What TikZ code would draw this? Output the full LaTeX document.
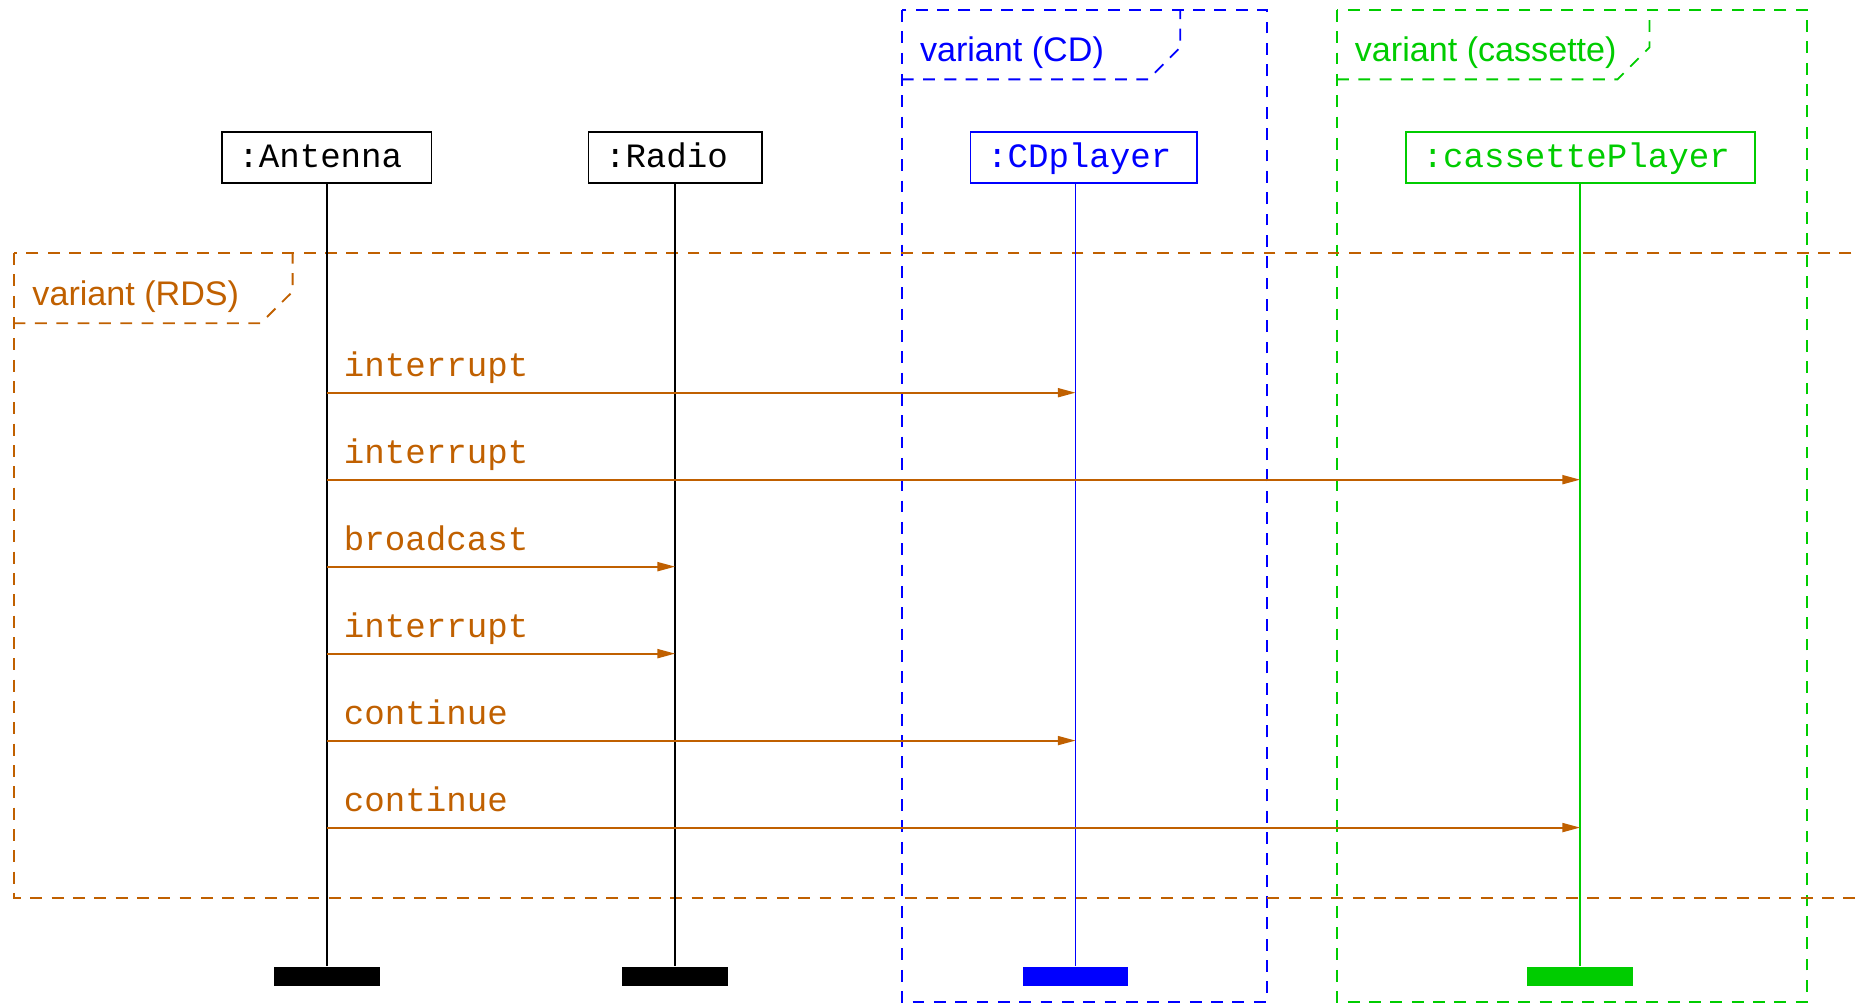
\documentclass[tikz,border=0pt]{standalone}
\usepackage{fontspec}
\setsansfont{Liberation Sans}
\setmonofont{Liberation Mono}
\usetikzlibrary{arrows.meta}
\usetikzlibrary{positioning}
\definecolor{rdsorange}{RGB}{192,96,0}
\definecolor{casgreen}{RGB}{0,204,0}
\tikzset{
 obj/.style={draw, line width=0.75pt, font=\fontsize{14.4pt}{17pt}\ttfamily, align=left,
   inner xsep=7pt, inner ysep=0pt, minimum height=21.5pt, text height=9pt, text depth=1pt},
 endbar/.style={fill, minimum width=44.5pt, minimum height=8pt, inner sep=0pt},
 life/.style={line width=0.65pt},
 frame/.style={line width=0.8pt, dash pattern=on 5pt off 4pt},
 ftitle/.style={anchor=base west, inner sep=0pt, font=\fontsize{14.4pt}{17pt}\sffamily},
 msg/.style={rdsorange, line width=0.8pt, -{Triangle[length=7.5pt,width=3.8pt]}},
 mlabel/.style={anchor=base west, inner sep=0pt, xshift=6.75pt, yshift=6.7pt,
   text=rdsorange, font=\fontsize{14.4pt}{17pt}\ttfamily},
}

\begin{document}
\begin{tikzpicture}[x=0.5pt, y=-0.5pt]
\clip (0,0) rectangle (1568,846.4);
\draw[frame, blue] (761,8.4) rectangle (1069,845.3);
\draw[frame, blue] (761,67) -- (969,67) -- (996,40) -- (996,8.4);
\node[ftitle, blue] (cdT) at (776,52) {variant (CD)};
\draw[frame, casgreen] (1128.3,8.4) rectangle (1525,845.3);
\draw[frame, casgreen] (1128.3,67) -- (1365,67) -- (1392,40) -- (1392,8.4);
\node[ftitle, casgreen] (casT) at (1143,52) {variant (cassette)};
\draw[frame, rdsorange] (11.5,213.6) rectangle (1620,757.5);
\draw[frame, rdsorange] (11.5,272.8) -- (220,272.8) -- (247,246) -- (247,213.6);
\node[ftitle, rdsorange] (rdsT) at (27,257.5) {variant (RDS)};

\node[obj, text width=74.5pt] (ant) at (275.65,133) {:Antenna};
\node[obj, text width=59.2pt] (rad) at (569.8,133) {:Radio};
\node[obj, blue, text width=81.5pt] (cd) at (914.5,133) {:CDplayer};
\node[obj, casgreen, text width=133.2pt] (cas) at (1333.75,133) {:cassettePlayer};

\node[endbar, black] (antE) at (276,823.75) {};
\node[endbar, black] (radE) at (569.8,823.75) {};
\node[endbar, blue] (cdE) at (907.7,823.75) {};
\node[endbar, casgreen] (casE) at (1333.5,823.75) {};

\draw[life] (antE.north |- ant.south) -- (antE.north);
\draw[life] (radE.north |- rad.south) -- (radE.north);
\draw[life, blue] (cdE.north |- cd.south) -- (cdE.north);
\draw[life, casgreen] (casE.north |- cas.south) -- (casE.north);

\foreach \y/\dest/\txt in {331.4/cdE/interrupt, 404.8/casE/interrupt, 478.2/radE/broadcast,
  551.6/radE/interrupt, 625/cdE/continue, 698.4/casE/continue} {
 \coordinate (m) at (antE.center |- 0,\y);
 \draw[msg] (m) node[mlabel] {\txt} -- (m -| \dest.center);
}
\end{tikzpicture}
\end{document}
